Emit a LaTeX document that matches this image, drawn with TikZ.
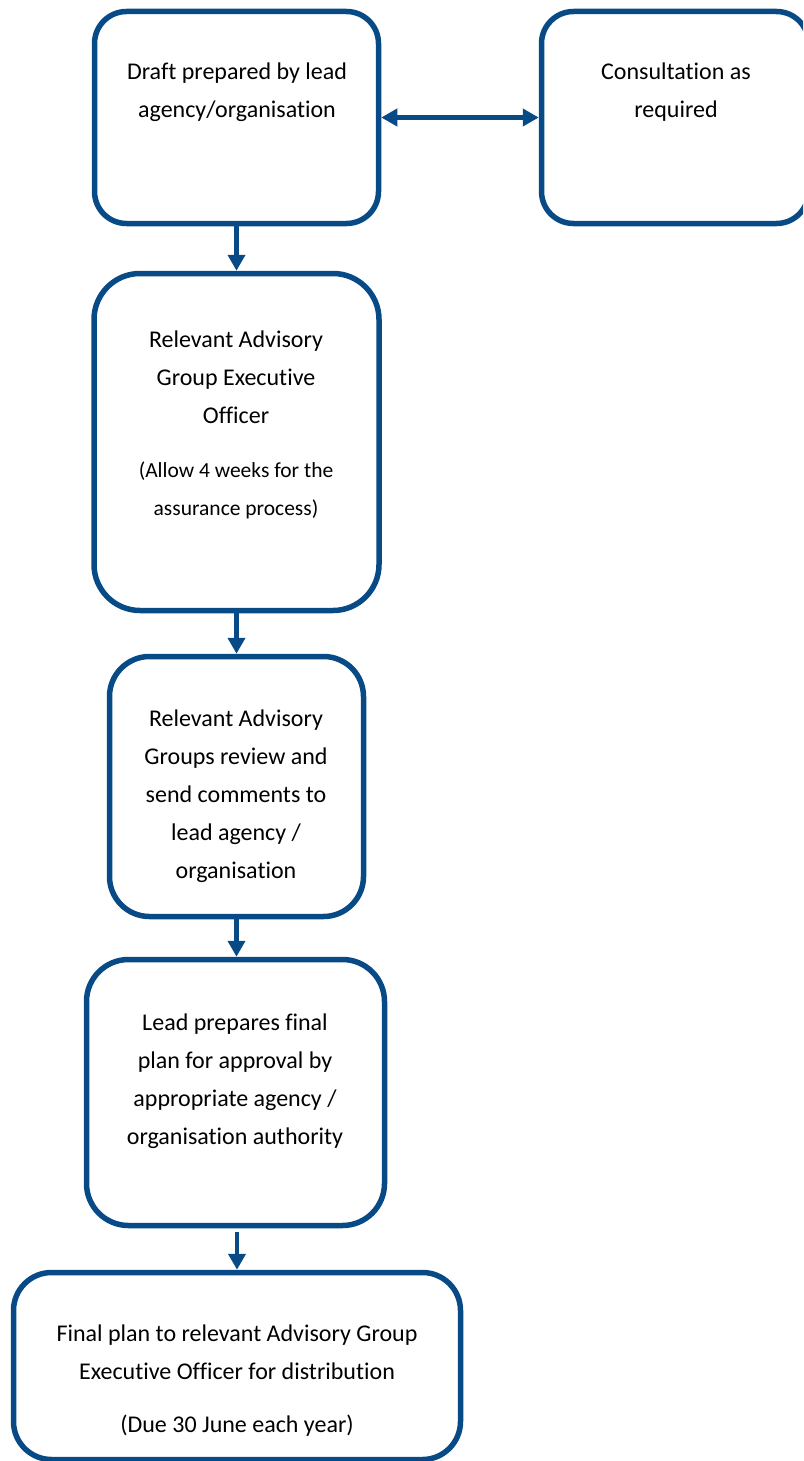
\documentclass[tikz,border=0pt]{standalone}
\usepackage{fontspec}
\setmainfont{Carlito}[Ligatures=NoCommon]
\usetikzlibrary{arrows.meta}
\definecolor{navy}{RGB}{8,74,134}
\tikzset{
  box/.style={draw=navy, line width=5.5pt, fill=none, inner sep=0pt},
  txt/.style={align=center, inner sep=0pt, font=\fontsize{24}{38}\selectfont},
  small/.style={align=center, inner sep=0pt, font=\fontsize{21.5}{38}\selectfont},
  conn/.style={draw=navy, line width=4.5pt, -{Triangle[width=17pt,length=16pt]}},
  dconn/.style={draw=navy, line width=4.5pt, {Triangle[width=17pt,length=16pt]}-{Triangle[width=17pt,length=16pt]}}
}
\begin{document}
\begin{tikzpicture}[x=1pt,y=-1pt]
\useasboundingbox (0,0) rectangle (803,1461);
\clip (0,0) rectangle (803,1461);
\node[box, rounded corners=32pt, minimum width=284pt, minimum height=212pt] (b1) at (236.5,117.5) {};
\node[box, rounded corners=32pt, minimum width=267pt, minimum height=212pt] (b2) at (675,117.5) {};
\node[box, rounded corners=46pt, minimum width=285pt, minimum height=337pt] (b3) at (236.5,442) {};
\node[box, rounded corners=40pt, minimum width=254pt, minimum height=260pt] (b4) at (236.5,786.5) {};
\node[box, rounded corners=42pt, minimum width=298pt, minimum height=266pt] (b5) at (235.5,1092.5) {};
\node[box, rounded corners=38pt, minimum width=447pt, minimum height=187pt] (b6) at (237,1366) {};

\node[txt] (t1) at (237,92) {Draft prepared by lead\\agency/organisation};
\node[txt] (t2) at (676,92) {Consultation as\\required};
\node[txt] (t3) at (236,377) {Relevant Advisory\\Group Executive\\Officer};
\node[small] (t3s) at (236,490) {(Allow 4 weeks for the\\assurance process)};
\node[txt] (t4) at (236,796) {Relevant Advisory\\Groups review and\\send comments to\\lead agency /\\organisation};
\node[txt] (t5) at (235,1081) {Lead prepares final\\plan for approval by\\appropriate agency /\\organisation authority};
\node[txt] (t6) at (237,1352) {Final plan to relevant Advisory Group\\Executive Officer for distribution};
\node[txt] (t6s) at (237,1426) {(Due 30 June each year)};

\draw[dconn] (b1.east) -- (b2.west);
\draw[conn] (b1.south) -- (b1.south |- b3.north);
\draw[conn] (b3.south) -- (b3.south |- b4.north);
\draw[conn] (b4.south) -- (b4.south |- b5.north);
\draw[conn, shorten <=4pt] (b6.north |- b5.south) -- (b6.north);
\end{tikzpicture}
\end{document}
